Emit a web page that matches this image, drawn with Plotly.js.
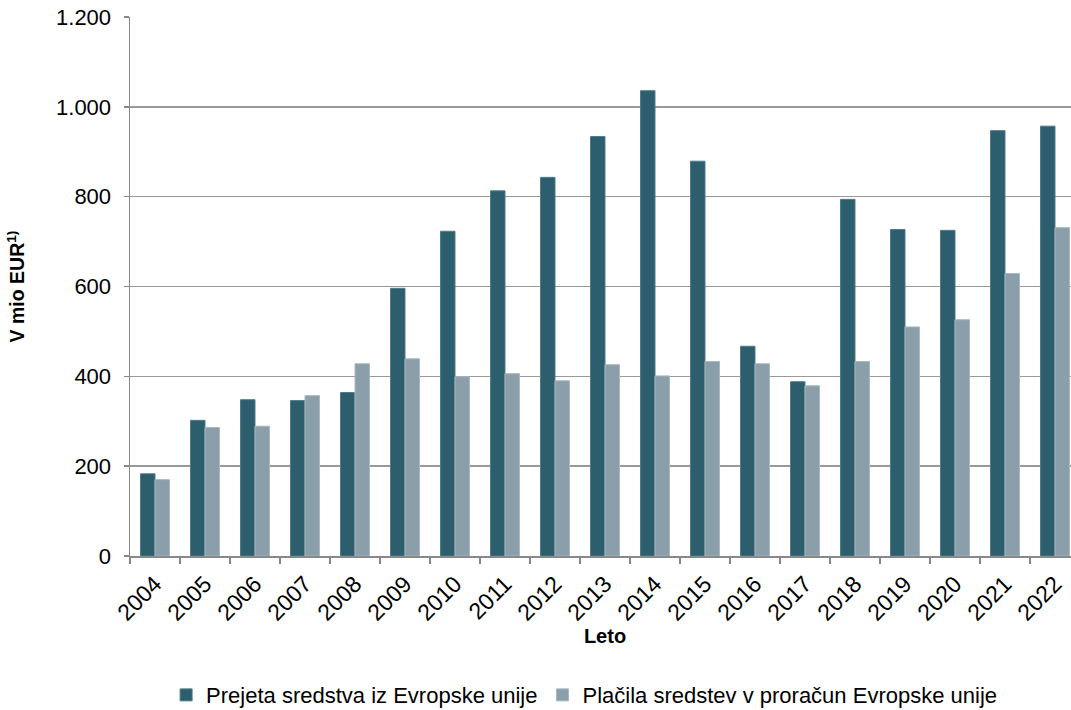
<!DOCTYPE html>
<html>
<head>
<meta charset="utf-8">
<script src="https://cdn.plot.ly/plotly-3.0.1.min.js"></script>
<style>
html,body{margin:0;padding:0;overflow:hidden;background:#fff;}
#chart{width:1090px;height:710px;}
</style>
</head>
<body>
<div id="chart"></div>
<script>
const years = ["2004","2005","2006","2007","2008","2009","2010","2011","2012","2013","2014","2015","2016","2017","2018","2019","2020","2021","2022"];
const received = [183, 302, 348, 346, 364, 596, 723, 813, 843, 934, 1036, 879, 467, 388, 794, 727, 725, 947, 957];
const paid = [170, 286, 289, 357, 428, 439, 399, 406, 390, 426, 401, 433, 428, 379, 433, 510, 526, 629, 731];
const yTicks = [0, 200, 400, 600, 800, 1000, 1200];
const yTickLabels = ["0", "200", "400", "600", "800", "1.000", "1.200"];

const font = "Liberation Sans, Arial, Helvetica, sans-serif";

const data = [
  {
    type: "bar", name: "Prejeta sredstva iz Evropske unije",
    x: years, y: received,
    marker: {color: "#2c5e6e", line: {color: "#4f7d8c", width: 1}}
  },
  {
    type: "bar", name: "Plačila sredstev v proračun Evropske unije",
    x: years, y: paid,
    marker: {color: "#8a9fa9", line: {color: "#a7b9c2", width: 1}}
  }
];

const layout = {
  width: 1090, height: 710,
  margin: {l: 130, r: 10, t: 17, b: 154},
  paper_bgcolor: "#fff", plot_bgcolor: "#fff",
  font: {family: font, size: 22, color: "#000"},
  barmode: "group",
  bargap: 0.42, bargroupgap: 0,
  showlegend: true,
  legend: {
    orientation: "h", x: 0.478, xanchor: "center",
    yref: "container", y: 0.021, yanchor: "middle",
    font: {family: font, size: 22, color: "#000"},
    itemwidth: 30, traceorder: "normal", tracegroupgap: 0
  },
  xaxis: {
    type: "category", automargin: false,
    tickangle: -45,
    ticks: "outside", tickson: "boundaries", ticklen: 6, tickcolor: "#888", tickwidth: 1.5,
    ticklabelstandoff: 4,
    showline: true, linecolor: "#888", linewidth: 1.5,
    showgrid: false,
    tickfont: {family: font, size: 23, color: "#000"},
    title: {text: "<b>Leto</b>", font: {family: font, size: 20, color: "#000"}, standoff: 0}
  },
  yaxis: {
    range: [0, 1200], automargin: false,
    tickvals: yTicks, ticktext: yTickLabels,
    ticks: "outside", ticklen: 5, tickcolor: "#888", tickwidth: 1.5,
    ticklabelstandoff: 8,
    showline: true, linecolor: "#888", linewidth: 1.5,
    showgrid: true, gridcolor: "#999", gridwidth: 1.5,
    zeroline: false,
    tickfont: {family: font, size: 22, color: "#000"},
    title: {text: "<b>V mio EUR<sup>1)</sup></b>", font: {family: font, size: 19.5, color: "#000"}, standoff: 26}
  }
};

Plotly.newPlot("chart", data, layout, {displayModeBar: false, staticPlot: true});
</script>
</body>
</html>
